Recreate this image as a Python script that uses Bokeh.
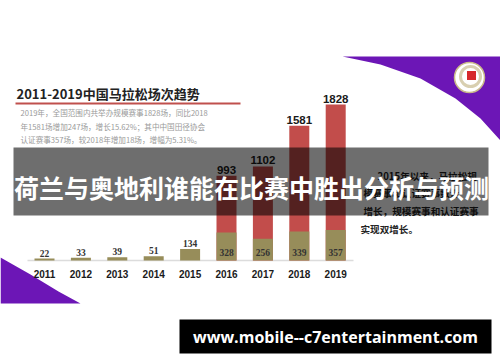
from bokeh.plotting import figure
from bokeh.models import Range1d
from bokeh.core.properties import value
from bokeh.embed import file_html
from bokeh.resources import INLINE

# ---- data ----
years = ["2011", "2012", "2013", "2014", "2015", "2016", "2017", "2018", "2019"]
certified = [22, 33, 39, 51, 134, 328, 256, 339, 357]
scale_years = ["2016", "2017", "2018", "2019"]
scale_totals = [993, 1102, 1581, 1828]

title = "2011-2019中国马拉松场次趋势"
sub_lines = ["2019年，全国范围内共举办规模赛事1828场，同比2018",
             "年1581场增加247场，增长15.62%；其中中国田径协会",
             "认证赛事357场，较2018年增加18场，增幅为5.31%。"]
side_lines = ["2015年以来，马拉松规", "模赛事和认证赛事数量",
              "增长，规模赛事和认证赛事", "实现双增长。"]
banner = "荷兰与奥地利谁能在比赛中胜出分析与预测"
url = "www.mobile--c7entertainment.com"

# ---- layout helpers (reference pixel -> data) ----
W, H = 500, 362
X0, DX, Y0, K = 44, 36.4, 260, 0.0853
def px(X): return (X - X0) / DX
def py(Y): return (Y0 - Y) / K

CJK = value("Noto Sans CJK SC")
p = figure(width=W, height=H, x_range=Range1d(px(0), px(W)),
           y_range=Range1d(py(H), py(0)), output_backend="svg",
           toolbar_location=None, min_border=0,
           x_axis_location=None, y_axis_location=None)
p.grid.visible = False
p.outline_line_color = None
p.background_fill_color = "white"
p.border_fill_color = "white"

# purple decorations
top_curve = [(342, 56), (380, 64), (420, 78), (455, 98), (480, 118), (500, 140)]
xs = [px(a) for a, b in top_curve] + [px(500)]
ys = [py(b) for a, b in top_curve] + [py(56)]
p.patch(xs, ys, fill_color="#6c16b6", line_color=None)
bl_curve = [(0, 257), (30, 274), (58, 291), (80, 303)]
xs = [px(a) for a, b in bl_curve] + [px(0)]
ys = [py(b) for a, b in bl_curve] + [py(303)]
p.patch(xs, ys, fill_color="#6c16b6", line_color=None)

# logo
p.scatter([px(469)], [py(77)], size=30, fill_color="white", line_color="#c9b98a", line_width=1.5)
p.scatter([px(470)], [py(76)], size=20, fill_color=None, line_color="#d8cfb0", line_width=3)
p.scatter([px(471)], [py(75)], size=9, marker="square", fill_color="#d6282b", line_color=None)

# title
p.text([px(16)], [py(93)], text=[title], text_font=CJK, text_font_size="13px",
       text_font_style="bold", text_color="#222222", text_baseline="middle")
p.line([px(15), px(240)], [py(103), py(103)], line_color="#c0504d", line_width=2)
for i, t in enumerate(sub_lines):
    p.text([px(20)], [py(112 + 13.5 * i)], text=[t], text_font=CJK, text_font_size="7.6px",
           text_color="#9a9a9a", text_baseline="middle")

# baseline
p.line([px(27), px(353)], [0, 0], line_color="#dcdcdc", line_width=1.5)

# bars
bw = 20 / DX
sx = [years.index(y) for y in scale_years]
p.vbar(x=sx, top=scale_totals, bottom=0, width=bw, fill_color="#c24d4b", line_color=None)
ix = list(range(len(years)))
p.vbar(x=ix, top=certified, bottom=0, width=bw, fill_color="#978d5a", line_color=None)

# labels
p.text(sx, scale_totals, text=[str(v) for v in scale_totals], text_font=value("Liberation Sans"),
       text_font_size="11.5px", text_font_style="bold", text_color="#1a1a1a",
       text_align="center", text_baseline="bottom", y_offset=-2)
small = [i for i, y in enumerate(years) if y not in scale_years]
inner = [i for i, y in enumerate(years) if y in scale_years]
p.text(small, [certified[i] for i in small], text=[str(certified[i]) for i in small],
       text_font=value("Liberation Serif"), text_font_size="9.5px", text_font_style="bold",
       text_color="#333333", text_align="center", text_baseline="bottom", y_offset=-2)
p.text(inner, [0] * len(inner), text=[str(certified[i]) for i in inner],
       text_font=value("Liberation Serif"), text_font_size="9.5px", text_font_style="bold",
       text_color="#333333", text_align="center", text_baseline="middle", y_offset=-8)
p.text(ix, [0] * len(ix), text=years, text_font=value("Liberation Sans"),
       text_font_size="10px", text_font_style="bold", text_color="#1a1a1a",
       text_align="center", text_baseline="middle", y_offset=13)

# side text
side_pos = [(377, 175), (363, 192), (363, 210), (360, 228)]
for (a, b), t in zip(side_pos, side_lines):
    p.text([px(a)], [py(b)], text=[t], text_font=CJK, text_font_size="9.6px",
           text_font_style="bold", text_color="#222222", text_baseline="middle")

# banner
p.quad(left=[px(13)], right=[px(488)], top=[py(147)], bottom=[py(215)],
       fill_color="black", fill_alpha=0.57, line_color=None)
p.text([px(251)], [py(186)], text=[banner], text_font=CJK, text_font_size="25px",
       text_font_style="bold", text_color="white", text_align="center", text_baseline="middle")

# url box
p.quad(left=[px(179)], right=[px(491)], top=[py(319)], bottom=[py(353)],
       fill_color="black", line_color=None)
p.text([px(335)], [py(336)], text=[url], text_font=value("Open Sans"), text_font_size="16px",
       text_font_style="bold", text_color="white", text_align="center", text_baseline="middle")

open("out.html", "w").write(file_html(p, INLINE))
